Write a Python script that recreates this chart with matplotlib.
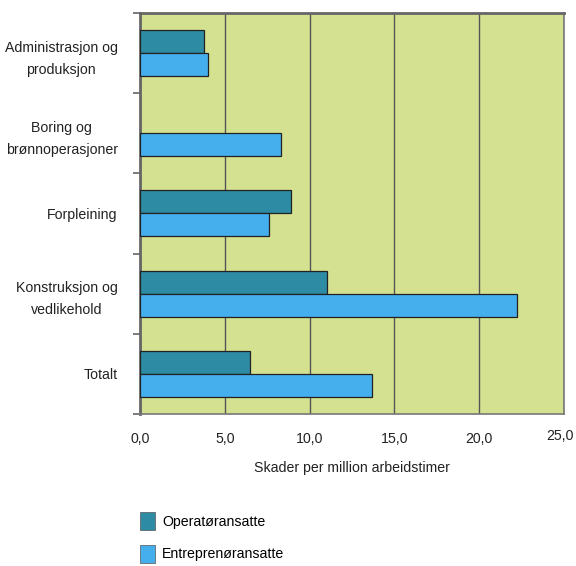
import numpy as np
import matplotlib.pyplot as plt
import matplotlib.transforms as mtransforms
from matplotlib.patches import Patch
from matplotlib.ticker import FixedLocator, FixedFormatter

plt.rcParams['font.family'] = ['Liberation Sans', 'DejaVu Sans']

kategorier = ["Administrasjon og\nproduksjon", "Boring og\nbrønnoperasjoner",
              "Forpleining", "Konstruksjon og\nvedlikehold", "Totalt"]
operator = [3.8, np.nan, 8.9, 11.0, 6.5]
entreprenor = [4.0, 8.3, 7.6, 22.2, 13.7]
serier = ["Operatøransatte", "Entreprenøransatte"]
xticks = [0, 5, 10, 15, 20, 25]
xlabels = ["0,0", "5,0", "10,0", "15,0", "20,0", "25,0"]

farge_op = "#2e8ba4"
farge_en = "#45aeec"
bakgrunn = "#d4e190"
fs = 10.2

fig = plt.figure(figsize=(5.76, 5.66), dpi=100)
ax = fig.add_axes([0.2431, 0.2686, 0.7361, 0.7085])
ax.set_facecolor(bakgrunn)

y = np.arange(len(kategorier))
h = 0.287
ax.barh(y - h / 2, operator, height=h, color=farge_op, edgecolor="#222222", linewidth=0.9, zorder=3)
ax.barh(y + h / 2, entreprenor, height=h, color=farge_en, edgecolor="#222222", linewidth=0.9, zorder=3)

ax.set_xlim(0, 25)
ax.set_ylim(len(kategorier) - 0.5, -0.5)

ax.set_xticks(xticks)
ax.set_xticklabels(xlabels, fontsize=fs)
ax.tick_params(axis="x", length=0, pad=13, colors="#222222")
# last label sits a little higher and to the left
siste = ax.get_xticklabels()[-1]
siste.set_transform(siste.get_transform() +
                    mtransforms.ScaledTranslation(-0.04, 0.03, fig.dpi_scale_trans))
ax.grid(axis="x", color="#555555", linewidth=1.0, zorder=1)

# category boundaries carry the tick marks, the names sit on minor ticks
ax.yaxis.set_major_locator(FixedLocator(np.arange(-0.5, len(kategorier), 1.0)))
ax.yaxis.set_major_formatter(FixedFormatter([""] * (len(kategorier) + 1)))
ax.yaxis.set_minor_locator(FixedLocator(y))
ax.yaxis.set_minor_formatter(FixedFormatter(kategorier))
ax.tick_params(axis="y", which="major", length=5, width=1.2, color="#666666")
ax.tick_params(axis="y", which="minor", length=0, pad=16, labelsize=fs, labelcolor="#222222")
for lbl in ax.get_yticklabels(minor=True):
    lbl.set_multialignment("center")
    lbl.set_linespacing(1.75)

for side in ["left", "top"]:
    ax.spines[side].set_color("#666666")
    ax.spines[side].set_linewidth(2.0)
for side in ["right", "bottom"]:
    ax.spines[side].set_color("#777777")
    ax.spines[side].set_linewidth(1.2)

ax.set_xlabel("Skader per million arbeidstimer", fontsize=fs, labelpad=11, color="#222222")

handles = [Patch(facecolor=farge_op, edgecolor="#555555", linewidth=0.5),
           Patch(facecolor=farge_en, edgecolor="#555555", linewidth=0.5)]
fig.legend(handles, serier, loc="upper left", bbox_to_anchor=(0.2337, 0.105),
           bbox_transform=fig.transFigure, frameon=False, fontsize=fs,
           handlelength=1.05, handleheight=1.6, handletextpad=0.5, labelspacing=1.0,
           borderaxespad=0)

fig.savefig("out.png", dpi=100)
